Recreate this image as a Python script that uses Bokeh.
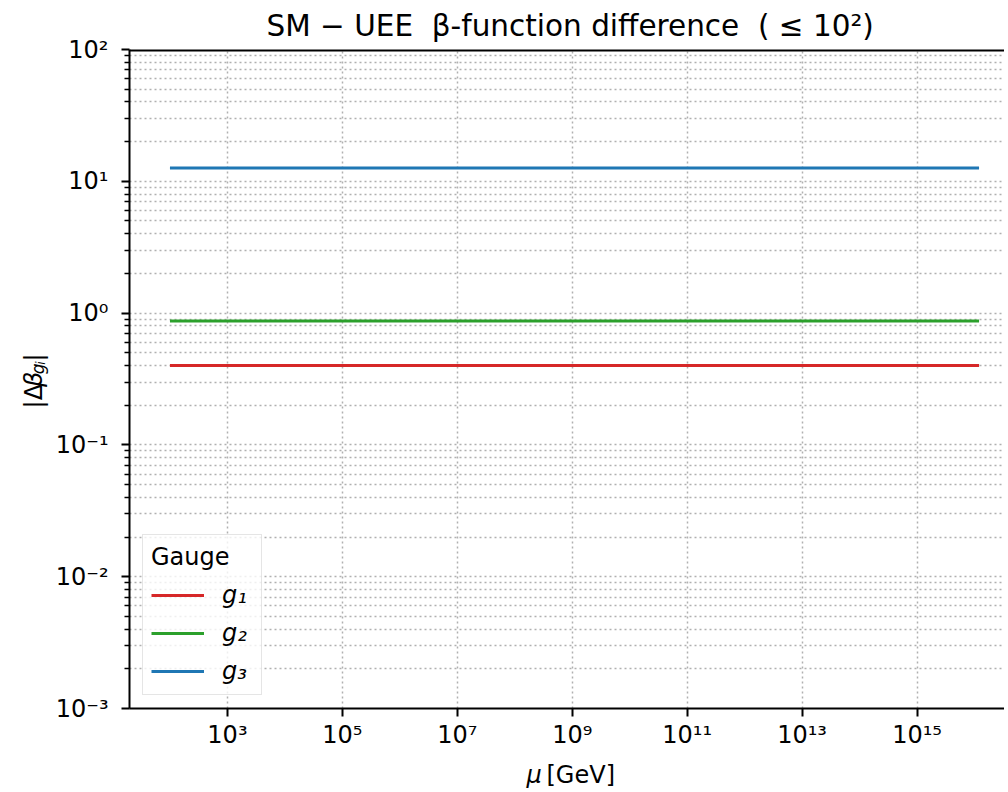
import math
from bokeh.plotting import figure
from bokeh.layouts import row, column
from bokeh.models import (FixedTicker, CustomJSTickFormatter, Span, Legend,
                          LegendItem, Range1d, Title)
from bokeh.core.properties import value
from bokeh.embed import file_html
from bokeh.resources import INLINE

# ---- data ----
mu_start = 1e2          # GeV
mu_end = 1.2e16         # GeV
gauge_labels = ["g\u2081", "g\u2082", "g\u2083"]
delta_beta = [0.40, 0.87, 12.6]
colors = ["#d62728", "#2ca02c", "#1f77b4"]

x_ticks = [1e3, 1e5, 1e7, 1e9, 1e11, 1e13, 1e15]
y_ticks = [1e-3, 1e-2, 1e-1, 1e0, 1e1, 1e2]
y_minor_ticks = [m * 10.0 ** e for e in range(-3, 2) for m in range(2, 10)]

title_text = "SM \u2212 UEE \u00a0\u03b2-function difference \u00a0( \u2264 10\u00b2)"
FONT = "DejaVu Sans"

TOTAL_W = 1004
YLAB_W = 50
MAIN_W = TOTAL_W - YLAB_W
TOTAL_H = 788
XLAB_H = 37
MAIN_H = TOTAL_H - XLAB_H

p = figure(width=MAIN_W, height=MAIN_H, x_axis_type="log", y_axis_type="log",
           x_range=Range1d(10 ** 1.296, 10 ** 16.522),
           y_range=Range1d(1e-3, 1e2),
           output_backend="svg", toolbar_location=None,
           min_border_left=129 - YLAB_W, min_border_right=0,
           min_border_top=48, min_border_bottom=MAIN_H - 708)
p.outline_line_color = None
p.background_fill_color = "white"
p.border_fill_color = "white"

p.add_layout(Title(text=title_text, align="left", offset=137, standoff=13,
                   text_font=FONT, text_font_size="29.5px", text_font_style="normal",
                   text_color="black"), "above")

fmt = CustomJSTickFormatter(code="""
const sup = {"0":"\u2070","1":"\u00b9","2":"\u00b2","3":"\u00b3","4":"\u2074",
             "5":"\u2075","6":"\u2076","7":"\u2077","8":"\u2078","9":"\u2079","-":"\u207b"};
const e = Math.round(Math.log10(tick));
return "10" + String(e).split("").map(c => sup[c]).join("");
""")

p.xaxis.ticker = FixedTicker(ticks=x_ticks, minor_ticks=[])
p.yaxis.ticker = FixedTicker(ticks=y_ticks, minor_ticks=y_minor_ticks)
for ax in (p.xaxis[0], p.yaxis[0]):
    ax.formatter = fmt
    ax.axis_line_color = "black"
    ax.axis_line_width = 2
    ax.major_tick_line_color = "black"
    ax.major_tick_line_width = 2
    ax.major_tick_out = 8
    ax.major_tick_in = 0
    ax.minor_tick_line_color = "black"
    ax.minor_tick_line_width = 1.5
    ax.minor_tick_out = 5
    ax.minor_tick_in = 0
    ax.major_label_text_font = FONT
    ax.major_label_text_font_size = "24px"
    ax.major_label_text_color = "black"
p.xaxis[0].major_label_standoff = 4
p.yaxis[0].major_label_standoff = 13

grid_color = "#b0b0b0"
p.xgrid.grid_line_color = grid_color
p.xgrid.grid_line_dash = "2 3"
p.xgrid.grid_line_width = 1.5
p.ygrid.grid_line_color = grid_color
p.ygrid.grid_line_dash = "2 3"
p.ygrid.grid_line_width = 1.5
p.ygrid.minor_grid_line_color = grid_color
p.ygrid.minor_grid_line_dash = "2 3"
p.ygrid.minor_grid_line_width = 1.5

# top spine
p.add_layout(Span(location=y_ticks[-1], dimension="width", line_color="black", line_width=4))

items = []
for lab, val, col in zip(gauge_labels, delta_beta, colors):
    r = p.line(x=[mu_start, mu_end], y=[val, val], line_color=col, line_width=3)
    items.append(LegendItem(label=lab, renderers=[r]))

legend = Legend(items=items, location="bottom_left", title="Gauge",
                label_text_font=FONT, label_text_font_size="24px",
                label_text_font_style="italic", label_text_color="black",
                title_text_font=FONT, title_text_font_size="24px",
                title_text_font_style="normal", title_text_color="black",
                title_standoff=9,
                glyph_width=53, glyph_height=30, label_height=30, label_width=31,
                label_standoff=18, spacing=8, padding=8, margin=13,
                border_line_color="#cccccc", border_line_width=1.5,
                background_fill_color="white", background_fill_alpha=0.8)
p.add_layout(legend)


def blank_fig(w, h):
    f = figure(width=w, height=h, x_range=Range1d(0, w), y_range=Range1d(0, h),
               output_backend="svg", toolbar_location=None,
               x_axis_location=None, y_axis_location=None, min_border=0)
    f.outline_line_color = None
    f.grid.visible = False
    f.background_fill_color = "white"
    f.border_fill_color = "white"
    return f


def put_text(f, x, y, txt, size, style="normal", angle=0.0):
    f.text(x=[x], y=[y], text=[txt], angle=angle, text_font=value(FONT),
           text_font_size=size, text_font_style=style, text_color="black",
           text_align="left", text_baseline="alphabetic")


# y axis label  |Δβ_{g_i}|  (rotated, reading upward); coordinates = page px
ylab = blank_fig(YLAB_W, MAIN_H)
a = math.pi / 2
bx = 33
y0 = MAIN_H - 409
put_text(ylab, bx, y0, "|\u0394", "24px", angle=a)
put_text(ylab, bx, y0 + 24.5, "\u03b2", "24px", style="italic", angle=a)
put_text(ylab, bx + 4, y0 + 39, "g", "17px", style="italic", angle=a)
put_text(ylab, bx + 7, y0 + 49.8, "i", "12px", style="italic", angle=a)
put_text(ylab, bx, y0 + 53.5, "|", "24px", angle=a)

# x axis label  μ [GeV]  (full-width strip under the plot; x = page px)
xlab = blank_fig(TOTAL_W, XLAB_H)
put_text(xlab, 526, TOTAL_H - 774, "\u03bc", "24px", style="italic")
put_text(xlab, 546, TOTAL_H - 774, "[GeV]", "24px")

layout = column(row(ylab, p, spacing=0), xlab, spacing=0)

with open("out.html", "w", encoding="utf-8") as f:
    f.write(file_html(layout, INLINE))
